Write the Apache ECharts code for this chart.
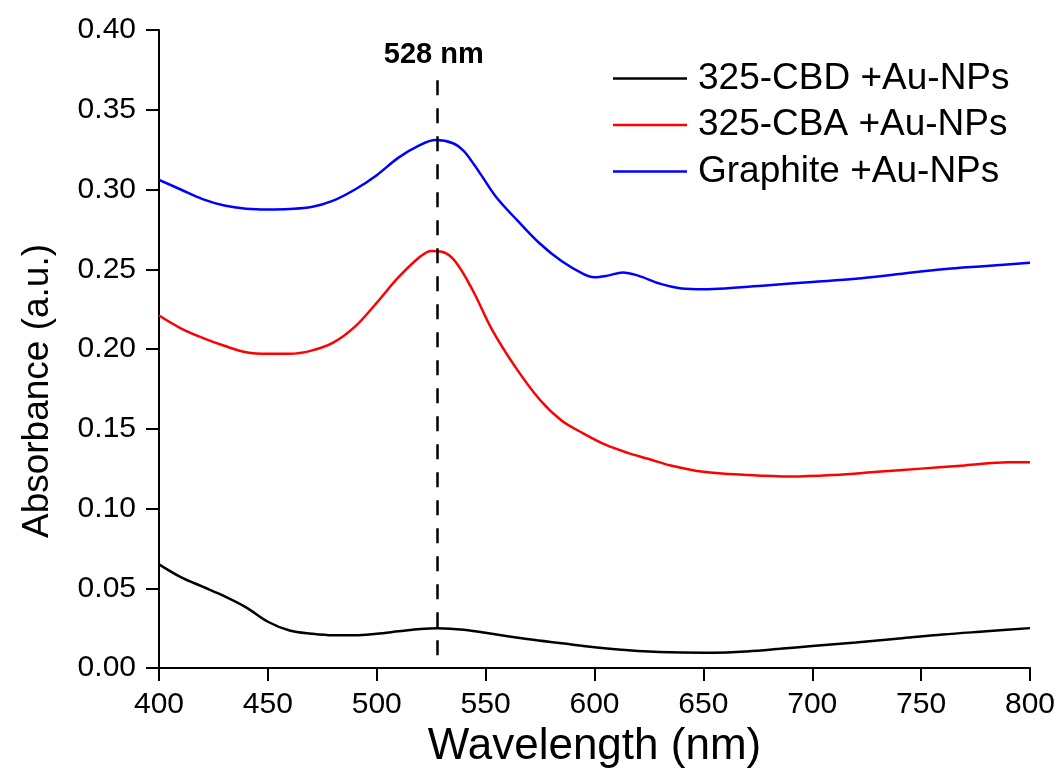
<!DOCTYPE html>
<html>
<head>
<meta charset="utf-8">
<script src="https://cdn.jsdelivr.net/npm/echarts@6/dist/echarts.min.js"></script>
<style>
html,body{margin:0;padding:0;background:#fff;}
#chart{width:1060px;height:774px;}
</style>
</head>
<body>
<div id="chart"></div>
<script>
const seriesNames = ['325-CBD +Au-NPs', '325-CBA +Au-NPs', 'Graphite +Au-NPs'];
const seriesColors = ['#000000', '#ff0000', '#0000ff'];

const cbdData = [
  [400,0.065],[410,0.057],[420,0.051],[430,0.045],[440,0.038],[450,0.029],[460,0.0235],
  [470,0.0215],[480,0.0205],[490,0.0205],[500,0.0215],[510,0.023],[520,0.0245],[528,0.025],
  [540,0.024],[555,0.021],[570,0.018],[585,0.0155],[600,0.013],[620,0.0107],[640,0.0097],
  [655,0.0096],[670,0.0104],[685,0.012],[700,0.0138],[720,0.016],[740,0.0185],[760,0.021],
  [780,0.023],[800,0.025]
];
const cbaData = [
  [400,0.221],[410,0.213],[420,0.207],[430,0.202],[440,0.198],[450,0.197],[460,0.197],
  [470,0.199],[480,0.204],[490,0.214],[500,0.229],[510,0.245],[520,0.258],[525,0.2615],
  [530,0.261],[536,0.255],[544,0.237],[553,0.212],[564,0.188],[575,0.168],[585,0.155],
  [595,0.147],[605,0.140],[615,0.135],[625,0.131],[635,0.127],[650,0.123],[670,0.121],
  [690,0.120],[710,0.121],[730,0.123],[750,0.125],[770,0.127],[790,0.129],[800,0.129]
];
const graphiteData = [
  [400,0.306],[410,0.300],[420,0.294],[430,0.290],[440,0.288],[450,0.2875],[460,0.2878],
  [470,0.289],[480,0.293],[490,0.300],[500,0.309],[510,0.320],[520,0.328],[527,0.331],
  [535,0.329],[540,0.324],[545,0.315],[548,0.309],[555,0.295],[565,0.280],[575,0.266],
  [585,0.255],[595,0.247],[600,0.245],[606,0.246],[613,0.248],[620,0.246],[630,0.241],
  [640,0.238],[650,0.2375],[660,0.238],[680,0.240],[700,0.242],[720,0.244],[740,0.247],
  [760,0.250],[780,0.252],[800,0.254]
];
const peakWavelength = 528;
const peakLineRange = [0.008, 0.369];
const peakLabel = '528 nm';
const xTicks = {min: 400, max: 800, interval: 50};
const yTicks = {min: 0, max: 0.40, interval: 0.05};

const FONT = "'Liberation Sans', Arial, sans-serif";
const chart = echarts.init(document.getElementById('chart'));
const allData = [cbdData, cbaData, graphiteData];

const series = allData.map((d, i) => ({
  name: seriesNames[i],
  type: 'line',
  data: d,
  smooth: 0.35,
  symbol: 'none',
  lineStyle: {color: seriesColors[i], width: 2.5},
  itemStyle: {color: seriesColors[i]},
  z: 3
}));
series.push({
  type: 'line',
  data: [],
  silent: true,
  markLine: {
    symbol: 'none',
    silent: true,
    lineStyle: {color: '#000', type: [15, 13], width: 2.5},
    label: {
      show: true, position: 'end', formatter: peakLabel,
      fontFamily: FONT, fontWeight: 'bold', fontSize: 29, color: '#000', distance: 10,
      offset: [-4, 0]
    },
    data: [[{coord: [peakWavelength, peakLineRange[0]]}, {coord: [peakWavelength, peakLineRange[1]]}]]
  }
});

chart.setOption({
  backgroundColor: '#fff',
  animation: false,
  grid: {left: 159, right: 30, top: 30, bottom: 105},
  legend: {
    orient: 'vertical',
    left: 608, top: 55,
    icon: 'rect',
    itemWidth: 74, itemHeight: 2.5,
    itemGap: 9.5,
    data: seriesNames,
    textStyle: {fontFamily: FONT, fontSize: 37, color: '#000', lineHeight: 36, padding: [0,0,0,6]}
  },
  xAxis: {
    type: 'value',
    min: xTicks.min, max: xTicks.max, interval: xTicks.interval,
    name: 'Wavelength (nm)', nameLocation: 'middle', nameGap: 57,
    nameTextStyle: {fontFamily: FONT, fontSize: 44, color: '#000'},
    axisLine: {onZero: false, lineStyle: {color: '#000', width: 2}},
    axisTick: {show: true, inside: false, length: 13, lineStyle: {color: '#000', width: 2}},
    axisLabel: {fontFamily: FONT, fontSize: 30, color: '#000', margin: 22},
    splitLine: {show: false}
  },
  yAxis: {
    type: 'value',
    min: yTicks.min, max: yTicks.max, interval: yTicks.interval,
    name: 'Absorbance (a.u.)', nameLocation: 'middle', nameGap: 103,
    nameTextStyle: {fontFamily: FONT, fontSize: 37, color: '#000', padding: [0, 84, 0, 0]},
    axisLine: {show: true, onZero: false, lineStyle: {color: '#000', width: 2}},
    axisTick: {show: true, inside: false, length: 13, lineStyle: {color: '#000', width: 2}},
    axisLabel: {fontFamily: FONT, fontSize: 30, color: '#000', margin: 23, formatter: v => v.toFixed(2)},
    splitLine: {show: false}
  },
  series: series
});
</script>
</body>
</html>
